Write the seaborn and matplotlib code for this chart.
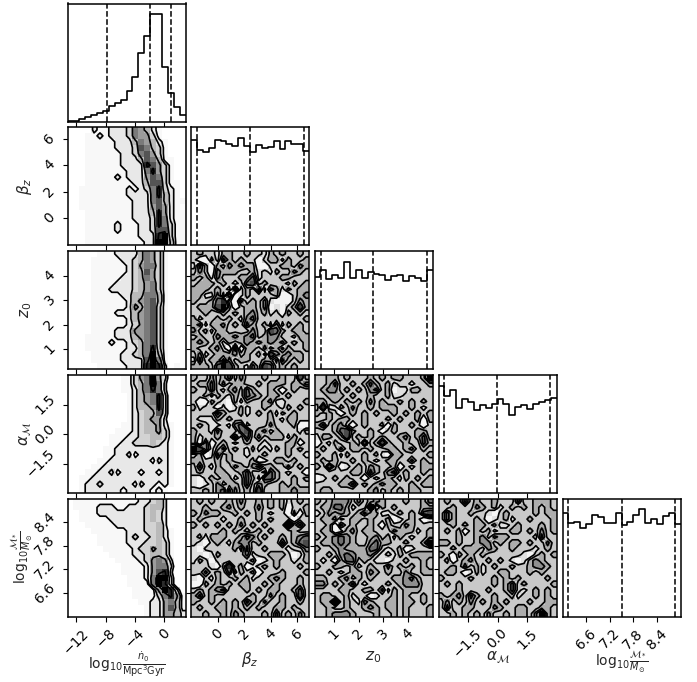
import numpy as np
import matplotlib
matplotlib.use("Agg")
import matplotlib.pyplot as plt
import seaborn as sns
from matplotlib.colors import PowerNorm

# ================================================================
labels = [
    r"$\mathrm{log}_{10}\frac{\dot{n}_0}{\mathrm{Mpc}^3\mathrm{Gyr}}$",
    r"$\beta_z$",
    r"$z_0$",
    r"$\alpha_\mathcal{M}$",
    r"$\mathrm{log}_{10}\frac{\mathcal{M}_*}{M_\odot}$",
]
limits = [(-13.2, 2.9), (-2.0, 6.9), (0.2, 5.0), (-3.0, 3.0), (6.0, 9.0)]
ticks = [[-12, -8, -4, 0], [0, 2, 4, 6], [1, 2, 3, 4], [-1.5, 0.0, 1.5], [6.6, 7.2, 7.8, 8.4]]
tick_text = [["\u221212", "\u22128", "\u22124", "0"], ["0", "2", "4", "6"], ["1", "2", "3", "4"],
             ["\u22121.5", "0.0", "1.5"], ["6.6", "7.2", "7.8", "8.4"]]

# dashed quantile lines on the diagonal
quantiles = [[-7.8, -1.9, 0.91], [-1.54, 2.46, 6.52], [0.45, 2.57, 4.77], [-2.7, -0.05, 2.66], [6.15, 7.5, 8.85]]

# 1D histograms, 20 bins each
hist_n0 = [2, 2, 6, 12, 20, 26, 30, 46, 54, 64, 92, 134, 204, 254, 320, 320, 164, 86, 44, 18]
hist_beta = [315, 285, 280, 293, 317, 313, 305, 297, 323, 299, 280, 301, 293, 295, 313, 289, 313, 303, 303, 283]
hist_z0 = [275, 295, 269, 281, 273, 321, 273, 295, 273, 291, 285, 281, 265, 279, 282, 263, 279, 271, 263, 295]
hist_alpha = [321, 291, 309, 253, 281, 273, 247, 263, 255, 267, 281, 265, 233, 257, 263, 251, 265, 271, 277, 285]
hist_mass = [310, 280, 285, 266, 278, 304, 298, 280, 282, 310, 276, 285, 304, 322, 280, 292, 277, 302, 312, 278]

# 2D histograms: one string per row, top row first, digit = density level
beta_n0 = ["00002112223654210000", "00011212223655310000", "00011111222465421000", "00011111222376431000",
           "00011111122367531000", "00011111122247641100", "00011111122228753100", "00011111112226853100",
           "00011111212225763100", "00011111111224773110", "00111111112123683210", "00111111112222684210",
           "00111111111222674211", "00111111111222575210", "00011111111222485211", "00011111111222386211",
           "00011111211122386311", "00011111211122377311", "00011111111122289311", "00011111111112299411"]
z0_n0 = ["00000111222246531000", "00001111122346531000", "00001111112356631000", "00001111112347531000",
         "00001111122346531000", "00001111222345631000", "00001112222345631000", "00001111122446641000",
         "00001111112456741000", "00001111112546731000", "00001111222456731000", "00001111112456731000",
         "00001111112356731000", "00001111222556731000", "00011111222456731000", "00011112112346731000",
         "00011111112246831000", "00001111122346941000", "00001111122227961000", "00000111112228982010"]
alpha_n0 = ["00000000011356953000", "00000000011346962000", "00000000011246862000", "00000000001245683000",
            "00000000001245683000", "00000000001244583000", "00000000001234473000", "00000000001234552000",
            "00000000011234452100", "00000000111234453100", "00000001112233443100", "00000001122333432100",
            "00000011222222222100", "00000011223122222100", "00000112222222132100", "00001122222222222100",
            "00011223122212212100", "00112222222222222100", "00122322222132212100", "00122222212222121000"]
mass_n0 = ["01111111111122342000", "01111222112223442000", "00111222222223432000", "00111112222223432000",
           "00011111222223342000", "00001111112223342100", "00000111112322342100", "00000111112223343100",
           "00000011111233543100", "00000001111223443100", "00000000111123565200", "00000000011112566300",
           "00000000011112578200", "00000000001112699300", "00000000001111698300", "00000000000111159830",
           "00000000000111136851", "00000000000011225641", "00000000000001225741", "00000000000001225542"]
z0_beta = ["34332443343324343343", "31142643433134424334", "26314354544113344354", "35315444334232433543",
           "43425333446233344333", "34443432367343332434", "44434326243625424344", "44225271243333411345",
           "43346831534352111354", "34447941344351213474", "33433434345342314343", "42334343256333333334",
           "45244534364342524343", "53424433335337643443", "34335445456345533244", "45434243454545453434",
           "43345316144353424334", "35234445343427545443", "26344253443344264343", "44436974325376343433"]
alpha_beta = ["43353463533343343374", "34463534433434443446", "43363245364334313433", "33424324365434434333",
              "31143214243345223334", "42331312423343324343", "33336433423434243433", "32224343333334324433",
              "34322325623335333411", "43325333673453433324", "42334336363534442433", "41513432343323334413",
              "97524634324232434343", "34126343323343334332", "44334343334123443433", "36324335435644335343",
              "34334433463326432331", "21343442364266433434", "21235344363543343433", "33435625343733344544"]
mass_beta = ["34343343533434342343", "33433453433534341334", "43544334343432331414", "34333233433434333133",
             "43434343534343339463", "33333434323434333433", "34244433465343343456", "32134324553433363467",
             "21333334263343332335", "22124333352334443124", "24313333334123433234", "33321483412343433343",
             "33534362434133343334", "21324334342334543343", "11434343443343433343", "34345633343434433463",
             "46343333334335343373", "43343434364353343343", "34334434343433443433", "33433435433343634353"]
alpha_z0 = ["33443433343434433349", "33463343464342332334", "34553434356341224433", "33444343343342233333",
            "44343434353433434343", "38224353343444334323", "43431343434334343434", "33434433433343433414",
            "46345313433414334313", "33346743343134333443", "24434734343433453463", "13243343734743343364",
            "34335344343344345343", "43342433434214433334", "34343343432344335343", "43741234354334132344",
            "33333344364356343343", "12343433132343243434", "33334463434544334344", "34433333345343434433"]
mass_z0 = ["43455535345433343346", "34466423391434333344", "23545434644223434367", "34452344343341234312",
           "33415343343143354333", "34412453443335444234", "43456543345342432334", "34456543356443343349",
           "43345444466323412333", "33435654453232434444", "32314663432213343343", "43344342343353434343",
           "33432344354343353344", "44334534343334456433", "55343463233343455533", "33334433443524344433",
           "34433423312334343343", "34493432543344344343", "33433433454344343334", "33455543334334343334"]
mass_alpha = ["34336343343336334443", "33433354342343434343", "36433433213433334344", "36433343123423343334",
              "33434344342234333434", "34341343423344343534", "33343345354433332633", "44343345534344343353",
              "33434443543343332343", "43143434333333213434", "34134533434321245433", "33435342343343345543",
              "34431242334433343433", "43333433343434333343", "34343333343463433334", "33343333433463234343",
              "43453643343342334343", "35343534343433343344", "36334433354334433443", "33434343533434435943"]

# contour cuts in digit units
band_levels = [1.5, 2.5, 4.5, 7.5]
noise_levels = [2.5, 3.5, 4.5, 5.5]
# ================================================================

hists = [hist_n0, hist_beta, hist_z0, hist_alpha, hist_mass]
grids = {(1, 0): beta_n0, (2, 0): z0_n0, (3, 0): alpha_n0, (4, 0): mass_n0,
         (2, 1): z0_beta, (3, 1): alpha_beta, (4, 1): mass_beta,
         (3, 2): alpha_z0, (4, 2): mass_z0, (4, 3): mass_alpha}

sns.set_style("ticks")
plt.rcParams["font.family"] = "DejaVu Sans"
plt.rcParams["mathtext.fontset"] = "dejavusans"
plt.rcParams["font.size"] = 10
plt.rcParams["axes.edgecolor"] = "k"
plt.rcParams["xtick.color"] = "k"
plt.rcParams["ytick.color"] = "k"

W, H = 697, 682
fig = plt.figure(figsize=(W / 100, H / 100), dpi=100)
x_px = [67.5, 191, 314.5, 438.5, 562.5]
y_px = [3.5, 127, 251, 375, 498.5]
size = 118

for i in range(5):
    for j in range(i + 1):
        ax = fig.add_axes([x_px[j] / W, 1 - (y_px[i] + size) / H, size / W, size / H])
        lo, hi = limits[j]
        edges = np.linspace(lo, hi, 21)
        if i == j:
            centers = (edges[:-1] + edges[1:]) / 2
            sns.histplot(x=centers, weights=hists[i], bins=20, binrange=limits[i], element="step", fill=False,
                         color="k", linewidth=1.2, ax=ax)
            for q in quantiles[i]:
                ax.axvline(q, color="k", ls="--", lw=1.1)
            ax.set_ylim(0, 1.1 * max(hists[i]))
            ax.set_yticks([])
            ax.set_ylabel("")
        else:
            h = np.array([[int(c) for c in row] for row in grids[(i, j)]], dtype=float)[::-1]
            y_edges = np.linspace(limits[i][0], limits[i][1], 21)
            gamma = 1.6 if j == 0 else 1.4
            ax.pcolormesh(edges, y_edges, h, cmap="gray_r", norm=PowerNorm(gamma, vmin=0, vmax=9), rasterized=True)
            # pad by one bin so the contours run out to the frame
            xc = (edges[:-1] + edges[1:]) / 2
            yc = (y_edges[:-1] + y_edges[1:]) / 2
            xc = np.r_[xc[0] - np.diff(xc)[0], xc, xc[-1] + np.diff(xc)[0]]
            yc = np.r_[yc[0] - np.diff(yc)[0], yc, yc[-1] + np.diff(yc)[0]]
            levels = band_levels if j == 0 else noise_levels
            ax.contour(xc, yc, np.pad(h, 1, mode="edge"), levels=levels, colors="k", linewidths=1.2)
            ax.set_ylim(limits[i])
            ax.set_yticks(ticks[i])

        ax.set_xlim(limits[j])
        ax.set_xticks(ticks[j])
        ax.tick_params(length=3.5, width=0.8, direction="out")
        for s in ax.spines.values():
            s.set_linewidth(1.1)
            s.set_visible(True)

        if i == 4:
            ax.set_xticklabels(tick_text[j], rotation=45)
            ax.set_xlabel(labels[j], fontsize=10 if "frac" in labels[j] else 11)
            ax.xaxis.set_label_coords(0.5, -0.28)
        else:
            ax.set_xticklabels([])
            ax.set_xlabel("")
        if i != j:
            if j == 0:
                ax.set_yticklabels(tick_text[i], rotation=45, va="center")
                ax.set_ylabel(labels[i], fontsize=10 if "frac" in labels[i] else 11)
                ax.yaxis.set_label_coords(-0.28, 0.5)
            else:
                ax.set_yticklabels([])

fig.savefig("out.png", dpi=100)
